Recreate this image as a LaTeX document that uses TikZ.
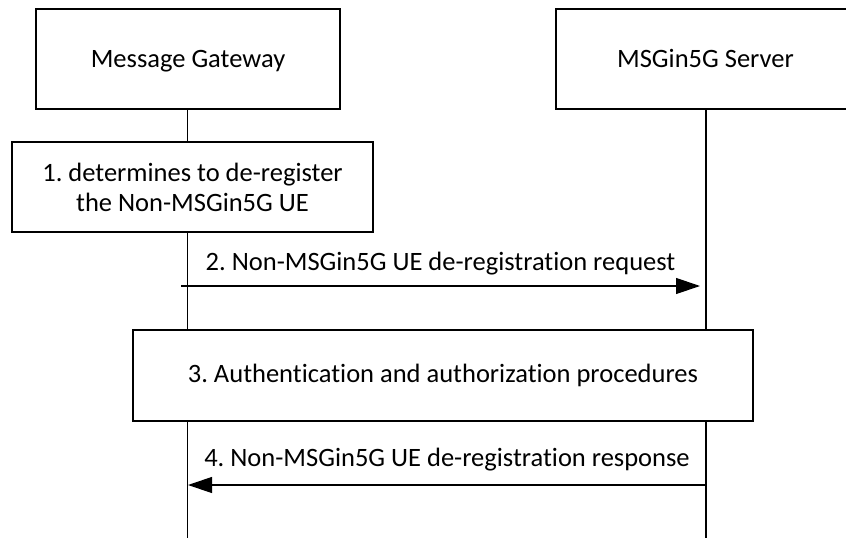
\documentclass[tikz,border=0pt]{standalone}
\usepackage{fontspec}
\setmainfont{Carlito}[Ligatures=NoCommon]
\frenchspacing
\usetikzlibrary{arrows.meta}
\begin{document}
\frenchspacing
\begin{tikzpicture}[x=1pt,y=-1pt,
  txt/.style={font=\fontsize{26.5}{30}\selectfont},
  box/.style={draw=black, line width=1.2pt, inner sep=0pt, align=center, txt},
  head/.style={box, minimum height=100pt, text height=22pt, text depth=6pt},
  life/.style={line width=1.2pt},
  msg/.style={line width=1.2pt, -{Triangle[length=24pt,width=16pt]}},
  lbl/.style={inner sep=0pt, anchor=base, txt}]
\useasboundingbox (0,0) rectangle (846,538);
% participant boxes
\node[head, minimum width=304pt] (mg) at (188,59) {Message Gateway};
\node[head, minimum width=299pt] (srv) at (705.5,59) {MSGin5G Server};
% step boxes
\node[box, minimum width=361pt, minimum height=90pt] (s1) at (192.5,187) {1. determines to de-register\\the Non-MSGin5G UE};
\node[box, minimum width=620pt, minimum height=91pt] (s3) at (443,375.5) {3. Authentication and authorization procedures};
% lifeline reference coordinates
\coordinate (L) at (187.5,0);
\coordinate (R) at (706,0);
\coordinate (Lend) at (187.5,538);
\coordinate (Rend) at (706,538);
% lifelines
\draw[life] (mg.south -| L) -- (s1.north -| L);
\draw[life] (s1.south -| L) -- (s3.north -| L);
\draw[life] (s3.south -| L) -- (Lend);
\draw[life] (srv.south -| R) -- (s3.north -| R);
\draw[life] (s3.south -| R) -- (Rend);
% message 2
\coordinate (a2s) at (181,286);
\coordinate (a2e) at (700,286);
\draw[msg] (a2s) -- (a2e);
\node[lbl] (t2) at (440.5,270) {2. Non-MSGin5G UE de-registration request};
% message 4
\coordinate (a4s) at (706,485);
\coordinate (a4e) at (188,485);
\draw[msg] (a4s) -- (a4e);
\node[lbl] (t4) at (447,466) {4. Non-MSGin5G UE de-registration response};
\end{tikzpicture}
\end{document}
